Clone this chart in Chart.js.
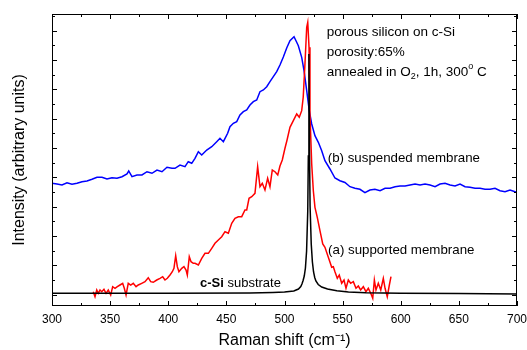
<!DOCTYPE html>
<html>
<head>
<meta charset="utf-8">
<script src="https://cdn.jsdelivr.net/npm/chart.js@4"></script>
<style>
  body { margin: 0; background: #fff; }
  canvas { display: block; }
</style>
</head>
<body>
<canvas id="ramanChart" width="527" height="350"></canvas>
<script>
// Raman spectra, values (intensity in arbitrary units)
const blueX = [300, 304.3, 308.6, 312.9, 317.2, 321.5, 325.8, 330.1, 334.4, 338.7,
  343, 347.3, 351.6, 355.9, 360.2, 364.5, 366, 368.8, 373.1, 377.4,
  381.7, 386, 390.3, 394.6, 398.9, 403.2, 405.8, 410.1, 414.4, 417.2,
  420.2, 423, 425.9, 428.8, 433.1, 437.4, 441.7, 444.5, 447.4, 451.1,
  453.1, 456, 458.9, 461.7, 464.6, 467.5, 470.3, 473.2, 476.1, 478.9,
  481.8, 484.7, 487.5, 490.4, 493.3, 496.1, 499, 501.9, 504.7, 508.2,
  510.5, 511.9, 514.8, 516.8, 519.1, 521.3, 523.4, 526.2, 529.1, 532,
  534.8, 539.1, 543.4, 547.7, 552, 556.3, 560.6, 564.9, 569.2, 573.5,
  577.8, 582.2, 586.5, 590.8, 595.1, 599.4, 603.7, 608, 612.3, 616.6,
  620.9, 625.2, 629.5, 633.8, 638.1, 642.4, 646.7, 651, 655.3, 659.6,
  663.9, 668.2, 672.5, 676.8, 681.1, 685.4, 689.7, 694, 698.3, 700];
const blueY = [122.7, 122, 121, 123.3, 121.7, 122.7, 124.3, 125, 126.7, 128.7,
  128.7, 127, 128.3, 127.7, 129.3, 132, 135, 129.3, 131, 131,
  134.3, 132.7, 136, 134.3, 138.7, 137.7, 137.7, 141, 139.3, 144.3,
  142.7, 147.7, 154.3, 151, 156, 159.3, 164.3, 167.7, 164.3, 172.7,
  179.3, 182.7, 184.3, 191, 194.3, 196, 201, 204.3, 206, 214.3,
  216, 219.3, 224.3, 229.3, 234.3, 241, 249, 258, 265.3, 269.3,
  263.7, 260.3, 248.7, 235.3, 215.3, 195.3, 182, 170.3, 163.7, 155.3,
  145.3, 137, 128, 125.3, 123.5, 119.3, 117.7, 116.7, 113.3, 116,
  116.7, 115.3, 117.7, 117.7, 119.3, 120, 120, 121, 122, 121,
  122, 121, 119.3, 122, 122.7, 121, 120, 122, 119.3, 118.7,
  117.7, 117.7, 116.7, 116.7, 117.7, 115.3, 114.3, 116, 114.3, 113.3];

const redX = [335.5, 337, 338.5, 339.8, 341.3, 342.8, 344.7, 346.5, 348.4, 350.5,
  352.2, 354.2, 356.2, 358.5, 360.8, 362.2, 363.7, 365.6, 367.7, 369.9,
  372.3, 374.2, 377.2, 380, 382.8, 384.9, 387.1, 390.1, 392.9, 395.2,
  397.2, 399.2, 401.5, 403.5, 404.9, 406.4, 407.8, 409.2, 411.6, 413.5,
  415.3, 416.4, 418.1, 419.6, 421.5, 423, 425.9, 428.8, 431.6, 434.5,
  437.4, 440.2, 443.1, 446, 448.8, 451.7, 454.6, 457.4, 460.3, 463.2,
  466, 467.5, 469.5, 471.8, 474.6, 476.9, 478.9, 480.9, 483.2, 485.5,
  487.5, 489.5, 491.8, 494.2, 496.1, 498.1, 500.4, 502.2, 504.7, 507.6,
  510.5, 512.7, 514.8, 516.1, 517.6, 519.1, 520, 521.1, 521.9, 523.4,
  524.8, 526.2, 528.2, 530.5, 532.9, 534.8, 537.7, 540.6, 542, 543.4,
  545.4, 547.1, 549.2, 551.2, 552.9, 554.9, 556.9, 559.2, 561.5, 563.5,
  565.5, 567.8, 570.1, 572.1, 574.2, 575.9, 577.3, 578.7, 580.7, 582.8,
  585, 586.5, 588.4, 590.2, 591.6];
const redY = [14.3, 9.3, 16, 12.7, 16, 14.3, 16.7, 12.7, 16, 11,
  19.3, 17.7, 19.3, 21, 22.7, 17.7, 11, 22.7, 21, 22.7,
  19.3, 21, 22.7, 24.3, 28.3, 24.3, 23.7, 26, 27.7, 29.3,
  26, 27.7, 31, 34.3, 37.7, 50.3, 39.3, 34.3, 37.7, 39.3,
  36, 31, 49.3, 44.3, 42.7, 42.7, 41, 47.7, 52.7, 52.7,
  57.7, 62.7, 66, 69.3, 74.3, 72.7, 82.7, 87.7, 89.3, 89.3,
  96, 96, 107.7, 109.3, 112.7, 139.3, 119.3, 122.7, 116, 127.7,
  119.3, 136, 134.3, 131, 140, 146, 157.7, 166, 178.7, 185.3,
  192, 188.7, 195.3, 208.7, 242, 278.7, 283.7, 258.7, 192, 142,
  115.3, 98.7, 88.7, 75.3, 62, 58.7, 48.7, 38.7, 39.3, 34.3,
  27.7, 31, 22.7, 26, 17.7, 26, 22.7, 24.3, 17.7, 20,
  16, 19.3, 14.3, 17.7, 12.7, 7.7, 26, 16, 22.7, 16,
  27.7, 17.7, 9.3, 21, 29.3];

const blackX = [300, 400, 470, 490, 500, 508, 512, 514, 515, 516,
  517, 518, 519, 520, 520.5, 521, 521.5, 522, 523, 524,
  525, 526, 527, 529, 532, 537, 545, 555, 570, 600,
  650, 700];
const blackY = [12.7, 12.7, 13, 13.5, 14, 15, 17, 19.5, 22, 25.5,
  30, 38, 55, 95, 150, 252, 155, 100, 62, 44,
  34, 28.5, 25, 21.5, 19, 17, 15.2, 14, 13.3, 12.8,
  12.4, 12];

// axis ticks (no labels on the intensity axis)
const xTicks = [300, 325, 350, 375, 400, 425, 450, 475, 500, 525, 550, 575, 600, 625, 650, 675, 700];
const yTicks = [11.4, 26.07, 40.73, 55.4, 70.07, 84.73, 99.4, 114.07, 128.73, 143.4,
  158.07, 172.73, 187.4, 202.07, 216.73, 231.4, 246.07, 260.73, 275.4, 290.07];

const toPoints = (xs, ys) => xs.map((v, i) => ({ x: v, y: ys[i] }));

const FONT = '"Liberation Sans", Arial, sans-serif';

// frame, inward ticks and the text labels inside the plot
const decorations = {
  id: 'decorations',
  afterDatasetsDraw(chart) {
    const { ctx, chartArea: a, scales: { x, y } } = chart;
    ctx.save();
    ctx.strokeStyle = '#000';
    ctx.lineWidth = 1;
    ctx.strokeRect(a.left + 0.5, a.top + 0.5, a.right - a.left - 1, a.bottom - a.top - 1);
    ctx.beginPath();
    xTicks.forEach(v => {
      const px = Math.round(x.getPixelForValue(v)) + 0.5;
      const len = v % 50 === 0 ? 5 : 3;
      ctx.moveTo(px, a.bottom); ctx.lineTo(px, a.bottom - len);
      ctx.moveTo(px, a.top); ctx.lineTo(px, a.top + len);
    });
    yTicks.forEach((v, i) => {
      const py = Math.round(y.getPixelForValue(v)) + 0.5;
      const len = i % 2 === 0 ? 5 : 3;
      ctx.moveTo(a.left, py); ctx.lineTo(a.left + len, py);
      ctx.moveTo(a.right, py); ctx.lineTo(a.right - len, py);
    });
    ctx.stroke();

    ctx.fillStyle = '#000';
    ctx.textBaseline = 'middle';
    ctx.textAlign = 'left';
    const X = v => x.getPixelForValue(v);
    const Y = v => y.getPixelForValue(v);
    const f = (size, bold) => (bold ? 'bold ' : '') + size + 'px ' + FONT;

    ctx.font = f(13.5);
    ctx.fillText('porous silicon on c-Si', X(536.3), Y(273.7));
    ctx.fillText('porosity:65%', X(536.3), Y(253.5));

    // annealed in O2, 1h, 300° C with sub/superscripts
    let cx = X(536.3);
    const cy = Y(233.5);
    const parts = [
      ['annealed in O', 13.5, 0], ['2', 9, 4.5], [', 1h, 300', 13.5, 0], ['o', 9, -5.5], [' C', 13.5, 0]
    ];
    parts.forEach(([t, s, dy]) => {
      ctx.font = f(s);
      ctx.fillText(t, cx, cy + dy);
      cx += ctx.measureText(t).width;
    });

    ctx.font = f(13.3);
    ctx.fillText('(b) suspended membrane', X(537.2), Y(147.7));
    ctx.fillText('(a) supported membrane', X(537.5), Y(56));

    ctx.font = f(13, true);
    const bx = X(427.3);
    const by = Y(22.7);
    ctx.fillText('c-Si', bx, by);
    const w = ctx.measureText('c-Si').width;
    ctx.font = f(13);
    ctx.fillText(' substrate', bx + w, by);
    ctx.restore();
  }
};

const ctx = document.getElementById('ramanChart').getContext('2d');
new Chart(ctx, {
  type: 'scatter',
  data: {
    datasets: [
      { label: 'c-Si substrate', data: toPoints(blackX, blackY), borderColor: '#000000' },
      { label: '(a) supported membrane', data: toPoints(redX, redY), borderColor: '#ff0000' },
      { label: '(b) suspended membrane', data: toPoints(blueX, blueY), borderColor: '#0000ff' }
    ].map(d => Object.assign(d, { showLine: true, pointRadius: 0, borderWidth: 1.5, tension: 0, fill: false }))
  },
  options: {
    responsive: false,
    animation: false,
    devicePixelRatio: 1,
    layout: { padding: { top: 14, right: 10, left: 0, bottom: 0 } },
    plugins: { legend: { display: false }, tooltip: { enabled: false } },
    scales: {
      x: {
        type: 'linear', min: 300, max: 700,
        afterBuildTicks: s => { s.ticks = xTicks.filter(v => v % 50 === 0).map(v => ({ value: v })); },
        afterFit: s => { s.height = 44; s.paddingLeft = 0; s.paddingRight = 0; },
        grid: { display: false, drawTicks: false },
        border: { display: false },
        ticks: { color: '#000', padding: 6, font: { family: FONT, size: 12 }, maxRotation: 0 },
        title: { display: true, text: 'Raman shift (cm⁻¹)', color: '#000', font: { family: FONT, size: 16 }, padding: { top: 0, bottom: 0 } }
      },
      y: {
        type: 'linear', min: 0, max: 292,
        afterBuildTicks: s => { s.ticks = yTicks.map(v => ({ value: v })); },
        afterFit: s => { s.width = 52; s.paddingTop = 0; s.paddingBottom = 0; },
        grid: { display: false, drawTicks: false },
        border: { display: false },
        ticks: { display: false },
        title: { display: true, text: 'Intensity (arbitrary units)', color: '#000', font: { family: FONT, size: 16 }, padding: { top: 10, bottom: 0 } }
      }
    }
  },
  plugins: [decorations]
});
</script>
</body>
</html>
